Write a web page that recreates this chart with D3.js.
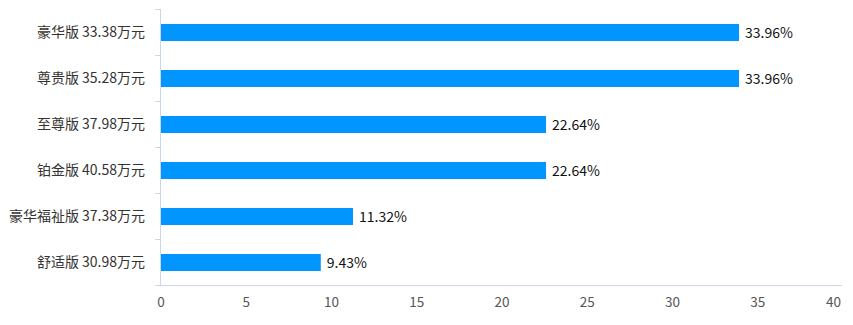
<!DOCTYPE html>
<html><head><meta charset="utf-8">
<script src="https://cdn.jsdelivr.net/npm/d3@7"></script>
<style>html,body{margin:0;padding:0;background:#fff;}svg{display:block;}</style>
</head><body><svg id="c" width="853" height="325"></svg>
<script>
const categories = ["豪华版 33.38万元","尊贵版 35.28万元","至尊版 37.98万元","铂金版 40.58万元","豪华福祉版 37.38万元","舒适版 30.98万元"];
const values = [33.96, 33.96, 22.64, 22.64, 11.32, 9.43];
const valueLabels = ["33.96%","33.96%","22.64%","22.64%","11.32%","9.43%"];
const xTicks = [0,5,10,15,20,25,30,35,40];

(function(){
const svg = d3.select("#c");
const font = "'Noto Sans CJK SC','Noto Sans',sans-serif";
const mLeft = 160, mRight = 842, mTop = 9, mBottom = 285;
const x = d3.scaleLinear().domain([0,40]).range([mLeft,mRight]);
const y = d3.scaleBand().domain(categories).range([mTop,mBottom]).paddingInner(0).paddingOuter(0);
const barH = 17;
const axisColor = "#ccd6eb";

svg.append("line").attr("x1",mLeft).attr("x2",mRight).attr("y1",mBottom+0.5).attr("y2",mBottom+0.5)
  .attr("stroke",axisColor).attr("stroke-width",1);
svg.append("line").attr("x1",mLeft+0.5).attr("x2",mLeft+0.5).attr("y1",mTop).attr("y2",mBottom)
  .attr("stroke",axisColor).attr("stroke-width",1);
const bounds = categories.map(c=>y(c)).concat([mBottom]);
svg.selectAll("line.yt").data(bounds).enter().append("line")
  .attr("x1",mLeft-5).attr("x2",mLeft).attr("y1",d=>Math.round(d)+0.5).attr("y2",d=>Math.round(d)+0.5)
  .attr("stroke",axisColor);

svg.selectAll("rect.bar").data(values).enter().append("rect")
  .attr("x",mLeft+1).attr("y",(d,i)=>y(categories[i])+y.bandwidth()/2-barH/2+0.5)
  .attr("width",d=>x(d)-mLeft-1).attr("height",barH).attr("fill","#0095ff");

svg.selectAll("text.cat").data(categories).enter().append("text")
  .attr("x",mLeft-15).attr("y",d=>y(d)+y.bandwidth()/2).attr("dy","0.35em")
  .attr("text-anchor","end").attr("font-family",font).attr("font-size",14).attr("fill","#333")
  .text(d=>d);

svg.selectAll("text.val").data(values).enter().append("text")
  .attr("x",d=>x(d)+6).attr("y",(d,i)=>y(categories[i])+y.bandwidth()/2+1).attr("dy","0.35em")
  .attr("font-family",font).attr("font-size",14).attr("fill","#111")
  .text((d,i)=>valueLabels[i]);

svg.selectAll("text.xt").data(xTicks).enter().append("text")
  .attr("x",d=>x(d)+(d===40?-1:1)).attr("y",302).attr("dy","0.35em")
  .attr("text-anchor",d=>d===40?"end":"middle")
  .attr("font-family",font).attr("font-size",13.5).attr("fill","#555")
  .text(d=>d);
})();
</script></body></html>
